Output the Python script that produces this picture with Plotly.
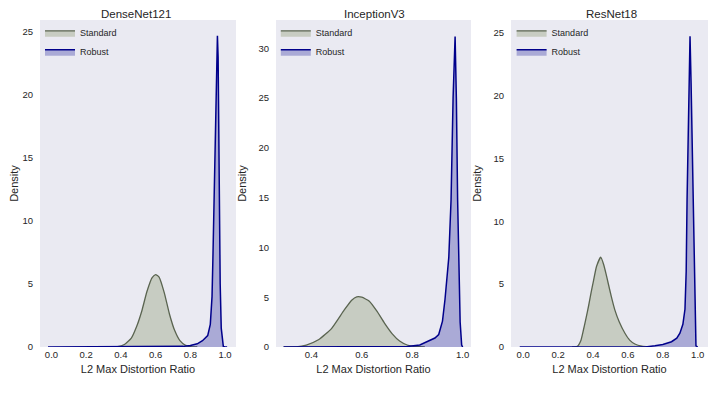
import plotly.graph_objects as go
from plotly.subplots import make_subplots

models = ['DenseNet121', 'InceptionV3', 'ResNet18']

# KDE curves (x = L2 max distortion ratio, y = density)
dense_std_x = [0.34, 0.38, 0.42, 0.46, 0.49, 0.52, 0.55, 0.58, 0.60, 0.62, 0.65, 0.68, 0.71, 0.74, 0.77, 0.80, 0.84]
dense_std_y = [0.0, 0.02, 0.2, 0.7, 1.6, 2.84, 4.4, 5.5, 5.75, 5.55, 4.3, 2.6, 1.3, 0.5, 0.15, 0.03, 0.0]
dense_rob_x = [-0.02, 0.5, 0.70, 0.76, 0.80, 0.84, 0.87, 0.90, 0.915, 0.925, 0.93, 0.937, 0.945, 0.952, 0.956, 0.960, 0.967, 0.972, 0.978, 0.985, 0.99, 1.0, 1.012]
dense_rob_y = [0.0, 0.0, 0.01, 0.05, 0.12, 0.25, 0.5, 0.9, 1.8, 4.0, 7.0, 11.7, 18.0, 23.0, 24.7, 23.0, 11.7, 5.0, 1.5, 0.3, 0.05, 0.0, 0.0]

incep_std_x = [0.29, 0.34, 0.38, 0.43, 0.48, 0.53, 0.56, 0.58, 0.60, 0.63, 0.66, 0.69, 0.72, 0.75, 0.78, 0.81, 0.85]
incep_std_y = [0.0, 0.02, 0.2, 0.75, 1.85, 3.7, 4.7, 5.03, 5.0, 4.6, 3.6, 2.4, 1.35, 0.6, 0.2, 0.05, 0.0]
incep_rob_x = [0.29, 0.70, 0.78, 0.83, 0.86, 0.89, 0.905, 0.92, 0.93, 0.945, 0.954, 0.962, 0.970, 0.975, 0.98, 0.985, 0.99, 0.996, 1.0]
incep_rob_y = [0.0, 0.0, 0.05, 0.2, 0.55, 0.9, 1.25, 2.6, 4.8, 9.0, 14.8, 25.0, 31.2, 25.0, 14.8, 7.0, 2.5, 0.2, 0.0]

res_std_x = [0.28, 0.31, 0.33, 0.345, 0.36, 0.375, 0.39, 0.40, 0.42, 0.444, 0.46, 0.475, 0.487, 0.505, 0.525, 0.55, 0.583, 0.61, 0.64, 0.68, 0.72]
res_std_y = [0.0, 0.05, 0.5, 1.35, 2.3, 3.3, 4.4, 5.07, 6.4, 7.14, 6.6, 5.8, 5.07, 4.0, 2.95, 2.0, 1.09, 0.55, 0.24, 0.06, 0.0]
res_rob_x = [-0.02, 0.70, 0.755, 0.80, 0.85, 0.88, 0.898, 0.915, 0.927, 0.934, 0.939, 0.947, 0.956, 0.962, 0.968, 0.975, 0.98, 0.985, 0.99, 1.0]
res_rob_y = [0.0, 0.0, 0.1, 0.2, 0.42, 0.7, 1.1, 1.8, 3.0, 6.0, 11.7, 19.0, 24.7, 21.0, 16.0, 11.7, 6.0, 1.5, 0.1, 0.0]

curves = [
    (dense_std_x, dense_std_y, dense_rob_x, dense_rob_y),
    (incep_std_x, incep_std_y, incep_rob_x, incep_rob_y),
    (res_std_x, res_std_y, res_rob_x, res_rob_y),
]

std_line, std_fill = '#5a6450', 'rgba(95,115,50,0.25)'
rob_line, rob_fill = '#00008B', 'rgba(0,0,139,0.27)'
txt = '#262626'
font = 'Liberation Sans, Arial, sans-serif'

fig = make_subplots(rows=1, cols=3, subplot_titles=models)

legends = ['legend', 'legend2', 'legend3']
for i, (sx, sy, rx, ry) in enumerate(curves):
    col = i + 1
    fig.add_trace(go.Scatter(x=sx, y=sy, name='Standard', mode='lines', fill='tozeroy',
                             line=dict(color=std_line, width=1.3, shape='spline', smoothing=0.5),
                             fillcolor=std_fill, legend=legends[i]), row=1, col=col)
    fig.add_trace(go.Scatter(x=rx, y=ry, name='Robust', mode='lines', fill='tozeroy',
                             line=dict(color=rob_line, width=1.5),
                             fillcolor=rob_fill, legend=legends[i]), row=1, col=col)

domains = [[0.0, 0.2934], [0.3533, 0.6452], [0.7051, 1.0]]
xranges = [[-0.066, 1.063], [0.26, 1.033], [-0.07, 1.059]]
yranges = [[0, 25.95], [0, 32.85], [0, 26.0]]
xticks = [[0.0, 0.2, 0.4, 0.6, 0.8, 1.0], [0.4, 0.6, 0.8, 1.0], [0.0, 0.2, 0.4, 0.6, 0.8, 1.0]]
yticks = [[0, 5, 10, 15, 20, 25], [0, 5, 10, 15, 20, 25, 30], [0, 5, 10, 15, 20, 25]]

for i in range(3):
    fig.update_xaxes(domain=domains[i], range=xranges[i], tickvals=xticks[i],
                     ticktext=['%.1f' % v for v in xticks[i]], automargin=False,
                     showgrid=False, zeroline=False, showline=False, ticks='',
                     tickfont=dict(size=9.5, color=txt),
                     title=dict(text='L2 Max Distortion Ratio', font=dict(size=11, color=txt), standoff=6),
                     row=1, col=i + 1)
    fig.update_yaxes(range=yranges[i], tickvals=yticks[i], automargin=False,
                     showgrid=False, zeroline=False, showline=False, ticks='',
                     ticklabelstandoff=6,
                     tickfont=dict(size=9.5, color=txt),
                     title=dict(text='Density', font=dict(size=11, color=txt), standoff=9),
                     row=1, col=i + 1)

leg_x = [0.0, 0.353, 0.706]
for i, name in enumerate(legends):
    fig.update_layout({name: dict(x=leg_x[i], y=1.005, xanchor='left', yanchor='top',
                                  bgcolor='rgba(0,0,0,0)', font=dict(size=9, color=txt),
                                  tracegroupgap=0, itemwidth=30)})

for ann in fig.layout.annotations:
    ann.font = dict(size=11.5, color=txt, family=font)
    ann.yshift = -2

# page body has an 8px default margin, so the figure is 8px smaller on each side
fig.update_layout(width=708, height=388, margin=dict(l=32, r=8, t=12, b=49, autoexpand=False),
                  plot_bgcolor='#EAEAF2', paper_bgcolor='white',
                  font=dict(family=font, color=txt), showlegend=True)

fig.write_html("out.html")
